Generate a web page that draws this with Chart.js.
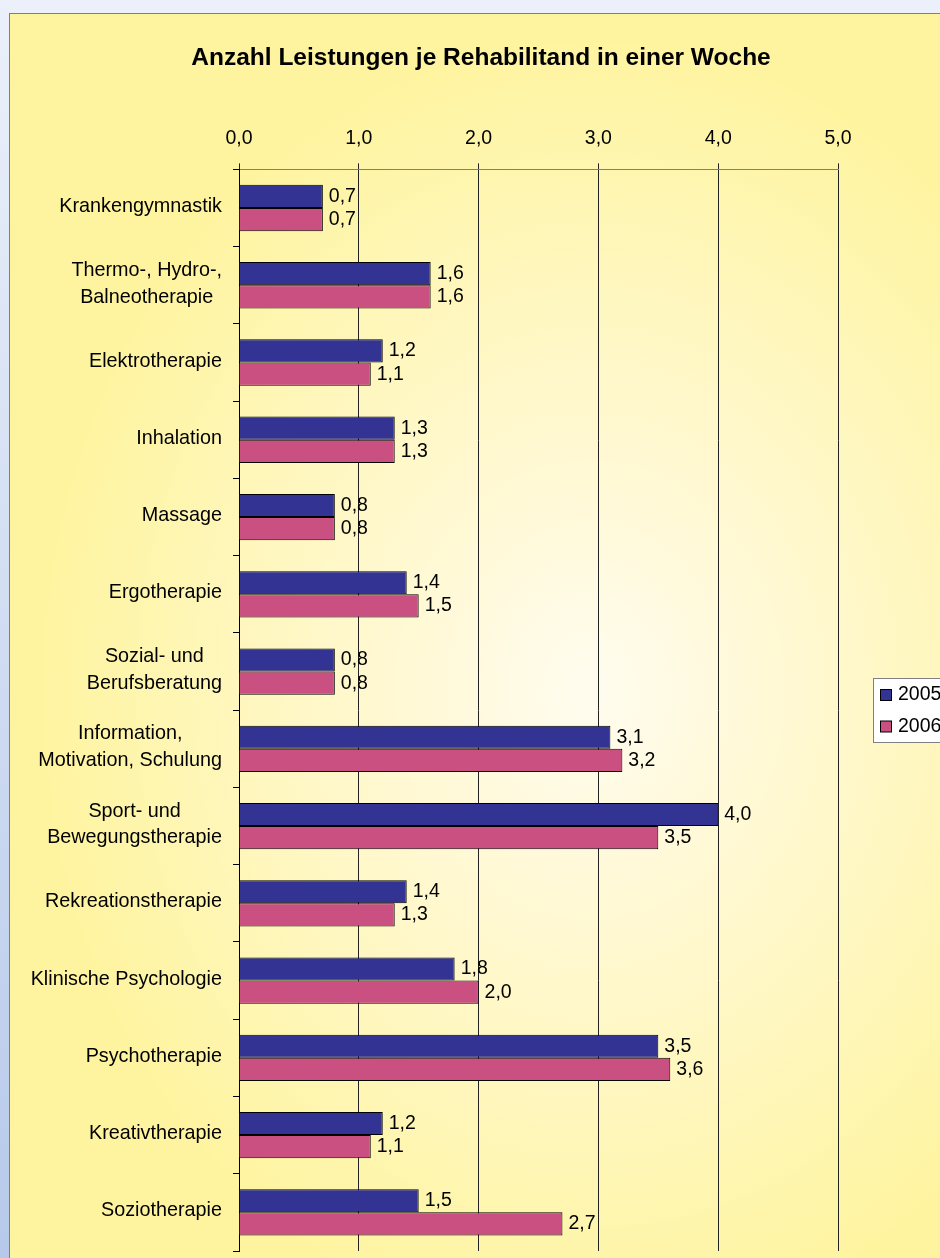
<!DOCTYPE html>
<html>
<head>
<meta charset="utf-8">
<script src="https://cdn.jsdelivr.net/npm/chart.js@4"></script>
<style>
  html, body { margin: 0; padding: 0; }
  body {
    width: 940px; height: 1258px; overflow: hidden; position: relative;
    background: linear-gradient(#ebf0fa, #b7c9ea);
  }
  #frame {
    position: absolute; left: 9px; top: 13px; width: 1000px; height: 1300px;
    border: 1px solid #7f7f7f;
    background: radial-gradient(ellipse 55% 50% at 58% 52%, #fffcef 0%, #fff8cc 45%, #fef4a0 100%);
  }
  #chart { position: absolute; left: 0; top: 0; }
</style>
</head>
<body>
<div id="frame"></div>
<canvas id="chart" width="940" height="1258"></canvas>
<script>
const titleText = 'Anzahl Leistungen je Rehabilitand in einer Woche';
const categories = [
    'Krankengymnastik',
    ['Thermo-, Hydro-,', 'Balneotherapie'],
    'Elektrotherapie',
    'Inhalation',
    'Massage',
    'Ergotherapie',
    ['Sozial- und', 'Berufsberatung'],
    ['Information,', 'Motivation, Schulung'],
    ['Sport- und', 'Bewegungstherapie'],
    'Rekreationstherapie',
    'Klinische Psychologie',
    'Psychotherapie',
    'Kreativtherapie',
    'Soziotherapie'
];
const values2005 = [0.7, 1.6, 1.2, 1.3, 0.8, 1.4, 0.8, 3.1, 4.0, 1.4, 1.8, 3.5, 1.2, 1.5];
const values2006 = [0.7, 1.6, 1.1, 1.3, 0.8, 1.5, 0.8, 3.2, 3.5, 1.3, 2.0, 3.6, 1.1, 2.7];
const seriesNames = ['2005', '2006'];
const axisMin = 0;
const axisMax = 5;

const FONT = '"Liberation Sans", Arial, sans-serif';

function formatNumber(v) {
    return v.toFixed(1).replace('.', ',');
}

// category labels: block right aligned, lines centered (like Excel)
const categoryLabels = {
    id: 'categoryLabels',
    afterDraw(chart) {
        const ctx = chart.ctx;
        const yScale = chart.scales.y;
        const rightEdge = 222;
        const lineGap = 26.7;
        ctx.save();
        ctx.font = '19.8px ' + FONT;
        ctx.fillStyle = '#000';
        ctx.textAlign = 'center';
        ctx.textBaseline = 'middle';
        chart.data.labels.forEach((label, i) => {
            const lines = Array.isArray(label) ? label : [label];
            const widest = Math.max(...lines.map(l => ctx.measureText(l).width));
            const cx = rightEdge - widest / 2;
            const cy = yScale.getPixelForValue(i) - 1.5;
            lines.forEach((line, j) => {
                ctx.fillText(line, cx, cy + (j - (lines.length - 1) / 2) * lineGap);
            });
        });
        ctx.restore();
    }
};

// value labels right of each bar
const valueLabels = {
    id: 'valueLabels',
    afterDatasetsDraw(chart) {
        const ctx = chart.ctx;
        ctx.save();
        ctx.font = '19.5px ' + FONT;
        ctx.fillStyle = '#000';
        ctx.textAlign = 'left';
        ctx.textBaseline = 'middle';
        chart.data.datasets.forEach((ds, d) => {
            chart.getDatasetMeta(d).data.forEach((bar, i) => {
                ctx.fillText(formatNumber(ds.data[i]), bar.x + 6, bar.y);
            });
        });
        ctx.restore();
    }
};

// boxed legend at the right edge
const boxLegend = {
    id: 'boxLegend',
    afterDraw(chart) {
        const ctx = chart.ctx;
        const left = 873.5, top = 678.5;
        ctx.save();
        ctx.fillStyle = '#ffffff';
        ctx.strokeStyle = '#808080';
        ctx.lineWidth = 1;
        ctx.fillRect(left, top, 120, 64);
        ctx.strokeRect(left, top, 120, 64);
        ctx.font = '19.5px ' + FONT;
        ctx.textBaseline = 'middle';
        ctx.textAlign = 'left';
        chart.data.datasets.forEach((ds, d) => {
            const cy = top + 16.5 + d * 31.5;
            ctx.fillStyle = ds.backgroundColor;
            ctx.fillRect(left + 7, cy - 5.5, 11, 11);
            ctx.strokeStyle = '#000';
            ctx.strokeRect(left + 7, cy - 5.5, 11, 11);
            ctx.fillStyle = '#000';
            ctx.fillText(ds.label, left + 24.5, cy);
        });
        ctx.restore();
    }
};

new Chart(document.getElementById('chart').getContext('2d'), {
    type: 'bar',
    data: {
        labels: categories,
        datasets: [
            {
                label: seriesNames[0],
                data: values2005,
                backgroundColor: '#333393',
                borderColor: '#000000',
                borderWidth: 1,
                categoryPercentage: 0.6,
                barPercentage: 1.0
            },
            {
                label: seriesNames[1],
                data: values2006,
                backgroundColor: '#c95080',
                borderColor: '#000000',
                borderWidth: 1,
                categoryPercentage: 0.6,
                barPercentage: 1.0
            }
        ]
    },
    options: {
        indexAxis: 'y',
        responsive: false,
        animation: false,
        devicePixelRatio: 1,
        layout: { padding: { left: 124, right: 102, top: 0, bottom: 7 } },
        scales: {
            x: {
                position: 'top',
                min: axisMin,
                max: axisMax,
                ticks: {
                    stepSize: 1,
                    color: '#000',
                    padding: 13,
                    font: { family: FONT, size: 19.5 },
                    callback: v => formatNumber(v)
                },
                grid: { color: '#222', lineWidth: 1, tickLength: 6 },
                border: { color: '#808080', width: 1 },
                afterFit(scale) { scale.height = 96; }
            },
            y: {
                ticks: { display: false },
                grid: { drawOnChartArea: false, drawTicks: true, tickLength: 6, color: '#000' },
                border: { color: '#000', width: 1 },
                afterFit(scale) { scale.width = 115; }
            }
        },
        plugins: {
            title: {
                display: true,
                text: titleText,
                color: '#000',
                font: { family: FONT, size: 24.5, weight: 'bold' },
                padding: { top: 44, bottom: 0 }
            },
            legend: { display: false },
            tooltip: { enabled: false }
        }
    },
    plugins: [categoryLabels, valueLabels, boxLegend]
});
</script>
</body>
</html>
